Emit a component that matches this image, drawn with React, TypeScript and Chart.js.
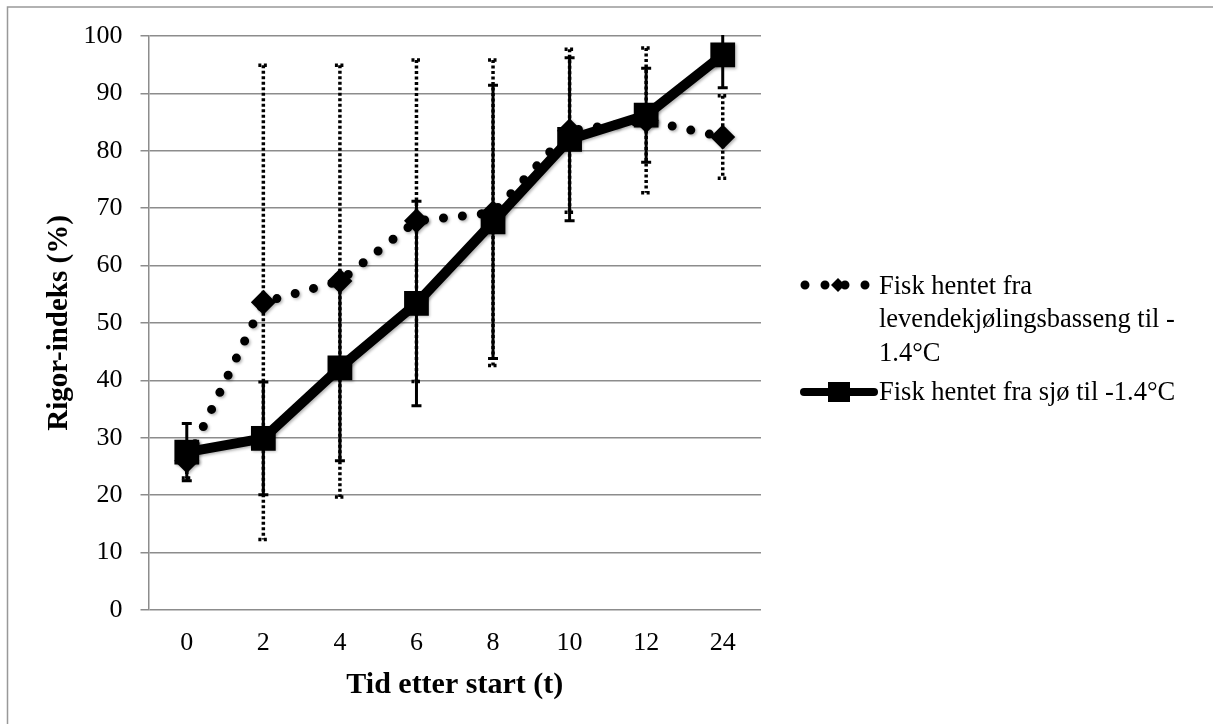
import React, { useEffect, useRef } from "react";
import { Chart, registerables } from "chart.js";

Chart.register(...registerables);

const categories = ["0", "2", "4", "6", "8", "10", "12", "24"];
const levendeLabel = "Fisk hentet fra levendekjølingsbasseng til -1.4°C";
const levendeLegendLines = ["Fisk hentet fra", "levendekjølingsbasseng til -", "1.4°C"];
const levendeValues = [26, 53.6, 57.3, 67.8, 69.2, 83.5, 85.3, 82.4];
const levendeErrors = [3, 41.3, 37.6, 28, 26.6, 14.2, 12.6, 7.2];
const sjoLabel = "Fisk hentet fra sjø til -1.4°C";
const sjoValues = [27.5, 29.9, 42.2, 53.4, 67.6, 82, 86.2, 96.7];
const sjoErrors = [5, 9.8, 16.2, 17.8, 23.8, 14.2, 8.2, 5.7];
const yTitle = "Rigor-indeks (%)";
const xTitle = "Tid etter start (t)";

const FONT = "'Liberation Serif', 'Times New Roman', serif";

const borderPlugin = {
  id: "outerBorder",
  beforeDraw(chart: any) {
    const { ctx, width, height } = chart;
    ctx.save();
    ctx.fillStyle = "#fff";
    ctx.fillRect(0, 0, width, height);
    ctx.strokeStyle = "#999";
    ctx.lineWidth = 1.5;
    ctx.beginPath();
    ctx.moveTo(7.5, height);
    ctx.lineTo(7.5, 7);
    ctx.lineTo(width, 7);
    ctx.stroke();
    ctx.restore();
  },
};

const errorBarPlugin = {
  id: "errorBars",
  beforeDatasetsDraw(chart: any) {
    const { ctx, chartArea, scales } = chart;
    const x = scales.x;
    const y = scales.y;
    ctx.save();
    ctx.beginPath();
    ctx.rect(chartArea.left, chartArea.top - 1, chartArea.right - chartArea.left, chartArea.bottom - chartArea.top + 2);
    ctx.clip();
    const defs = [
      { vals: levendeValues, errs: levendeErrors, dash: [3, 2.5], width: 3.5 },
      { vals: sjoValues, errs: sjoErrors, dash: [], width: 3 },
    ];
    defs.forEach((d) => {
      ctx.setLineDash(d.dash);
      ctx.lineWidth = d.width;
      ctx.strokeStyle = "#000";
      d.vals.forEach((v, i) => {
        const px = x.getPixelForValue(i);
        const top = y.getPixelForValue(v + d.errs[i]);
        const bot = y.getPixelForValue(v - d.errs[i]);
        ctx.beginPath();
        ctx.moveTo(px, top);
        ctx.lineTo(px, bot);
        ctx.stroke();
        ctx.beginPath();
        ctx.moveTo(px - 5, top);
        ctx.lineTo(px + 5, top);
        ctx.moveTo(px - 5, bot);
        ctx.lineTo(px + 5, bot);
        ctx.stroke();
      });
    });
    ctx.restore();
  },
};

const shadowPlugin = {
  id: "markerShadow",
  beforeDatasetDraw(chart: any) {
    const ctx = chart.ctx;
    ctx.save();
    ctx.shadowColor = "rgba(0,0,0,0.3)";
    ctx.shadowBlur = 3;
    ctx.shadowOffsetX = 1.5;
    ctx.shadowOffsetY = 1.5;
  },
  afterDatasetDraw(chart: any) {
    chart.ctx.restore();
  },
};

const legendPlugin = {
  id: "customLegend",
  afterDraw(chart: any) {
    const { ctx } = chart;
    ctx.save();
    ctx.fillStyle = "#000";
    ctx.strokeStyle = "#000";
    // series 1
    const y1 = 285;
    ctx.lineWidth = 9;
    ctx.lineCap = "round";
    ctx.setLineDash([0, 20]);
    ctx.beginPath();
    ctx.moveTo(805, y1);
    ctx.lineTo(870, y1);
    ctx.stroke();
    ctx.setLineDash([]);
    ctx.beginPath();
    ctx.moveTo(838 - 7, y1);
    ctx.lineTo(838, y1 - 7);
    ctx.lineTo(838 + 7, y1);
    ctx.lineTo(838, y1 + 7);
    ctx.closePath();
    ctx.fill();
    ctx.font = `26.5px ${FONT}`;
    ctx.textBaseline = "middle";
    ctx.textAlign = "left";
    const lineYs = [287, 320.5, 354];
    levendeLegendLines.forEach((t, i) => ctx.fillText(t, 879, lineYs[i]));
    // series 2
    const y2 = 392;
    ctx.lineWidth = 8;
    ctx.lineCap = "round";
    ctx.beginPath();
    ctx.moveTo(804, y2);
    ctx.lineTo(874, y2);
    ctx.stroke();
    ctx.fillRect(839 - 11, y2 - 10, 22, 20);
    ctx.fillText(sjoLabel, 879, y2 + 1);
    ctx.restore();
  },
};

export default function App() {
  const ref = useRef<HTMLCanvasElement | null>(null);
  useEffect(() => {
    if (!ref.current) return;
    const chart = new Chart(ref.current, {
      type: "line",
      data: {
        labels: categories,
        datasets: [
          {
            label: levendeLabel,
            data: levendeValues,
            borderColor: "#000",
            backgroundColor: "#000",
            borderWidth: 9,
            borderDash: [0, 19],
            borderCapStyle: "round",
            pointStyle: "rectRot",
            pointRadius: 12.5,
            pointBorderWidth: 0,
            pointBackgroundColor: "#000",
            tension: 0,
            fill: false,
            order: 1,
          },
          {
            label: sjoLabel,
            data: sjoValues,
            borderColor: "#000",
            backgroundColor: "#000",
            borderWidth: 10,
            pointStyle: "rect",
            pointRadius: 17.5,
            pointBorderWidth: 0,
            pointBackgroundColor: "#000",
            tension: 0,
            fill: false,
            order: 0,
          },
        ],
      } as any,
      options: {
        responsive: false,
        animation: false,
        layout: { padding: { left: 0, top: 36, right: 452, bottom: 0 } },
        plugins: {
          legend: { display: false },
          tooltip: { enabled: false },
        },
        scales: {
          x: {
            type: "category",
            offset: true,
            grid: { display: false, drawTicks: false },
            border: { display: false },
            ticks: {
              color: "#000",
              font: { family: FONT, size: 26 },
              padding: 18,
              maxRotation: 0,
            },
            title: {
              display: true,
              text: xTitle,
              color: "#000",
              font: { family: FONT, size: 30, weight: "bold" },
              padding: { top: 0, bottom: 21 },
            },
            afterFit(scale: any) {
              scale.height = 114;
            },
          },
          y: {
            min: 0,
            max: 100,
            grid: { color: "#8c8c8c", lineWidth: 1.5, tickLength: 8, drawTicks: true },
            border: { color: "#8c8c8c", width: 1.5 },
            ticks: {
              stepSize: 10,
              color: "#000",
              font: { family: FONT, size: 26 },
              padding: 18,
            },
            title: {
              display: true,
              text: yTitle,
              color: "#000",
              font: { family: FONT, size: 29, weight: "bold" },
              padding: { top: 42.6, bottom: 0 },
            },
            afterFit(scale: any) {
              scale.width = 148.5;
            },
          },
        },
      } as any,
      plugins: [borderPlugin, errorBarPlugin, shadowPlugin, legendPlugin],
    });
    return () => chart.destroy();
  }, []);
  return (
    <div style={{ position: "absolute", left: 0, top: 0, width: 1213, height: 724, overflow: "hidden" }}>
      <canvas ref={ref} width={1213} height={724} style={{ display: "block" }} />
    </div>
  );
}
